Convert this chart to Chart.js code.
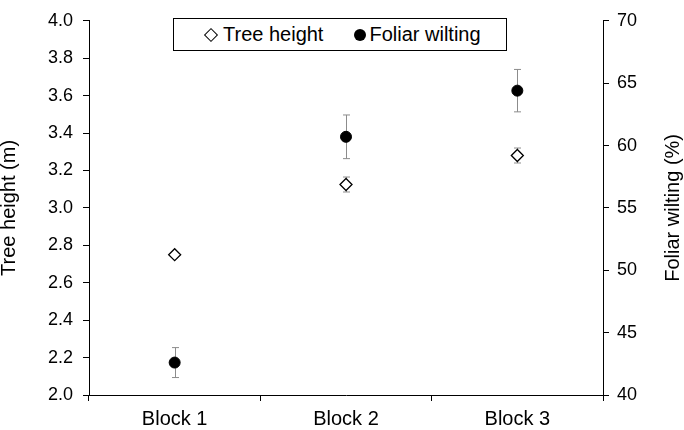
<!DOCTYPE html>
<html>
<head>
<meta charset="utf-8">
<script src="https://cdn.jsdelivr.net/npm/chart.js@4.4.1/dist/chart.umd.min.js"></script>
<style>
    body { margin: 0; background: #fff; }
    #wrap { position: relative; width: 684px; height: 430px; }
    #legend {
        position: absolute; left: 173px; top: 18px; width: 334px; height: 33px;
        border: 1px solid #000; background: #fff; box-sizing: border-box;
        font-family: "Liberation Sans", Arial, sans-serif; font-size: 20px; color: #000;
        display: flex; align-items: center; padding-left: 30px;
    }
    .item { display: flex; align-items: center; }
    .diamond { width: 8px; height: 8px; border: 1.3px solid #000; transform: rotate(45deg); margin: 0 7px 0 2px; }
    .dot { width: 12px; height: 12px; border-radius: 50%; background: #000; margin: 0 3px 0 31px; }
</style>
</head>
<body>
<div id="wrap">
    <canvas id="chart" width="684" height="430"></canvas>
    <div id="legend">
        <span class="item"><span class="diamond"></span>Tree height</span>
        <span class="item"><span class="dot"></span>Foliar wilting</span>
    </div>
</div>
<script>
// --- Data ---
const blocks = ['Block 1', 'Block 2', 'Block 3'];
const treeHeight = [2.75, 3.125, 3.28];
const treeHeightErr = [0.01, 0.04, 0.04];
const foliarWilting = [42.6, 60.7, 64.4];
const foliarWiltingErr = [1.2, 1.75, 1.7];

const FONT = '"Liberation Sans", Arial, sans-serif';

// Draws grey error bars behind the markers using the chart scales
const errorBars = {
    id: 'errorBars',
    beforeDatasetsDraw(chart) {
        const ctx = chart.ctx;
        const x = chart.scales.x;
        const sets = [
            { vals: treeHeight, errs: treeHeightErr, scale: chart.scales.y },
            { vals: foliarWilting, errs: foliarWiltingErr, scale: chart.scales.y2 }
        ];
        ctx.save();
        ctx.strokeStyle = '#8c8c8c';
        ctx.lineWidth = 1;
        sets.forEach(s => {
            s.vals.forEach((v, i) => {
                const px = Math.round(x.getPixelForValue(i)) + 0.5;
                const top = s.scale.getPixelForValue(v + s.errs[i]);
                const bot = s.scale.getPixelForValue(v - s.errs[i]);
                ctx.beginPath();
                ctx.moveTo(px, top); ctx.lineTo(px, bot);
                ctx.moveTo(px - 3.5, top); ctx.lineTo(px + 3.5, top);
                ctx.moveTo(px - 3.5, bot); ctx.lineTo(px + 3.5, bot);
                ctx.stroke();
            });
        });
        ctx.restore();
    }
};

// Both axis titles read bottom-to-top, so they are drawn here
const axisTitles = {
    id: 'axisTitles',
    afterDraw(chart) {
        const ctx = chart.ctx;
        const mid = (chart.chartArea.top + chart.chartArea.bottom) / 2;
        ctx.save();
        ctx.fillStyle = '#000';
        ctx.font = '20px ' + FONT;
        ctx.textAlign = 'center';
        ctx.textBaseline = 'middle';
        [[9, 'Tree height (m)'], [673, 'Foliar wilting (%)']].forEach(([tx, text]) => {
            ctx.save();
            ctx.translate(tx, mid);
            ctx.rotate(-Math.PI / 2);
            ctx.fillText(text, 0, 0);
            ctx.restore();
        });
        ctx.restore();
    }
};

const axisTicks = { color: '#000', font: { family: FONT, size: 18 } };

new Chart(document.getElementById('chart'), {
    type: 'line',
    data: {
        labels: blocks,
        datasets: [
            {
                label: 'Tree height',
                data: treeHeight,
                yAxisID: 'y',
                showLine: false,
                pointStyle: 'rectRot',
                pointRadius: 6,
                pointBackgroundColor: '#fff',
                pointBorderColor: '#000',
                pointBorderWidth: 1.3
            },
            {
                label: 'Foliar wilting',
                data: foliarWilting,
                yAxisID: 'y2',
                showLine: false,
                pointStyle: 'circle',
                pointRadius: 5.5,
                pointBackgroundColor: '#000',
                pointBorderColor: '#000',
                pointBorderWidth: 1
            }
        ]
    },
    options: {
        responsive: false,
        animation: false,
        layout: { padding: { top: 15, left: 0, right: 0, bottom: 0 } },
        plugins: { legend: { display: false }, tooltip: { enabled: false } },
        scales: {
            x: {
                offset: true,
                grid: { offset: true, drawOnChartArea: false, color: '#000', tickLength: 6 },
                border: { color: '#000', width: 1 },
                ticks: { color: '#000', font: { family: FONT, size: 20 }, padding: 6 },
                afterFit: s => { s.height = 35; }
            },
            y: {
                position: 'left',
                min: 2, max: 4,
                ticks: { ...axisTicks, stepSize: 0.2, padding: 10, callback: v => v.toFixed(1) },
                grid: { drawOnChartArea: false, color: '#000', tickLength: 6 },
                border: { color: '#000', width: 1 },
                afterFit: s => { s.width = 89; }
            },
            y2: {
                position: 'right',
                min: 40, max: 70,
                ticks: { ...axisTicks, stepSize: 5, padding: 8 },
                grid: { drawOnChartArea: false, color: '#000', tickLength: 6 },
                border: { color: '#000', width: 1 },
                afterFit: s => { s.width = 81; }
            }
        }
    },
    plugins: [errorBars, axisTitles]
});
</script>
</body>
</html>
